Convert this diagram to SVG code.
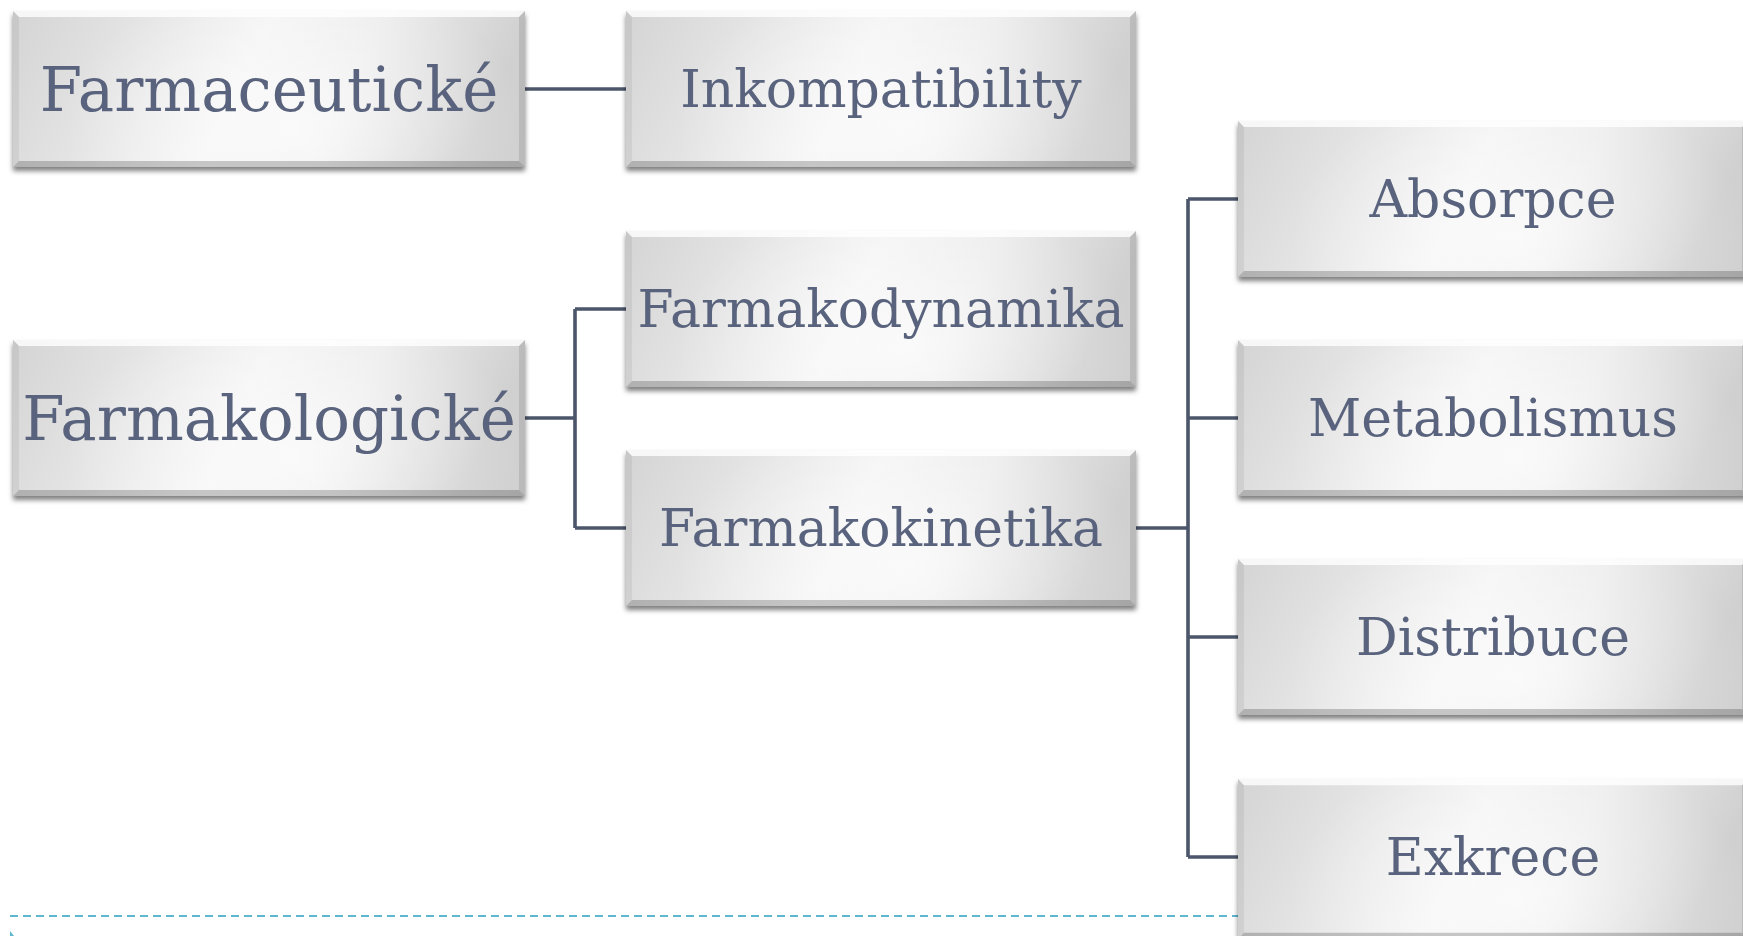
<svg xmlns="http://www.w3.org/2000/svg" width="1743" height="936" viewBox="0 0 1743 936">
<style>
.lbl{font-family:"DejaVu Serif","Liberation Serif",serif;fill:#5a647d;text-anchor:middle}
.big{font-size:61px}
.mid{font-size:52px}
.conn{fill:none;stroke:#4c566a;stroke-width:3.6;stroke-linejoin:miter}
.box{fill:url(#g)}
.hl{fill:url(#rg)}
.bt{fill:#ffffff;fill-opacity:.8}
.bl{fill:#000;fill-opacity:.06}
.bb{fill:#000;fill-opacity:.2}
.br{fill:#000;fill-opacity:.1}
</style>
<defs>
<linearGradient id="g" x1="0" y1="0" x2="1" y2="0.15">
<stop offset="0" stop-color="#d4d4d4"/>
<stop offset="0.5" stop-color="#f4f4f4"/>
<stop offset="0.72" stop-color="#ececec"/>
<stop offset="1" stop-color="#d0d0d0"/>
</linearGradient>
<radialGradient id="rg" cx="0.55" cy="0.75" r="0.45" gradientTransform="translate(0.55 0.75) scale(1 2.2) translate(-0.55 -0.75)">
<stop offset="0" stop-color="#ffffff" stop-opacity="0.7"/>
<stop offset="1" stop-color="#ffffff" stop-opacity="0"/>
</radialGradient>
<filter id="sh" x="-5%" y="-10%" width="110%" height="130%">
<feDropShadow dx="0" dy="4" stdDeviation="2.8" flood-color="#000" flood-opacity="0.5"/>
</filter>
<symbol id="bev" viewBox="0 0 510 156" preserveAspectRatio="none">
<rect class="box" x="0" y="0" width="510" height="156"/>
<rect class="hl" x="0" y="0" width="510" height="156"/>
<polygon class="bt" points="0,0 510,0 504,6 6,6"/>
<polygon class="bl" points="0,0 6,6 6,150 0,156"/>
<polygon class="bb" points="0,156 6,150 504,150 510,156"/>
<polygon class="br" points="510,0 510,156 504,150 504,6"/>
</symbol>
</defs>
<rect width="1743" height="936" fill="#ffffff"/>
<g id="connectors">
<path class="conn" d="M525,89 H626"/>
<path class="conn" d="M525,418 H575 M575,309 V528 M575,309 H626 M575,528 H626"/>
<path class="conn" d="M1136,528 H1188 M1188,199 V857 M1188,199 H1238 M1188,418 H1238 M1188,637 H1238 M1188,857 H1238"/>
</g>
<line x1="10" y1="916" x2="1240" y2="916" stroke="#5eb6cf" stroke-width="2" stroke-dasharray="8 5"/>
<polygon points="10,931 14,936 10,936" fill="#5eb6cf"/>
<g id="farmaceuticke" filter="url(#sh)">
<use href="#bev" x="13" y="11" width="512" height="156"/>
<text class="lbl big" x="269" y="111">Farmaceutické</text>
</g>
<g id="inkompatibility" filter="url(#sh)">
<use href="#bev" x="626" y="11" width="510" height="156"/>
<text class="lbl mid" x="881" y="107">Inkompatibility</text>
</g>
<g id="absorpce" filter="url(#sh)">
<use href="#bev" x="1238" y="121" width="510" height="156"/>
<text class="lbl mid" x="1493" y="217">Absorpce</text>
</g>
<g id="farmakodynamika" filter="url(#sh)">
<use href="#bev" x="626" y="231" width="510" height="156"/>
<text class="lbl mid" x="881" y="327">Farmakodynamika</text>
</g>
<g id="farmakologicke" filter="url(#sh)">
<use href="#bev" x="13" y="340" width="512" height="156"/>
<text class="lbl big" x="269" y="440">Farmakologické</text>
</g>
<g id="metabolismus" filter="url(#sh)">
<use href="#bev" x="1238" y="340" width="510" height="156"/>
<text class="lbl mid" x="1493" y="436">Metabolismus</text>
</g>
<g id="farmakokinetika" filter="url(#sh)">
<use href="#bev" x="626" y="450" width="510" height="156"/>
<text class="lbl mid" x="881" y="546">Farmakokinetika</text>
</g>
<g id="distribuce" filter="url(#sh)">
<use href="#bev" x="1238" y="559" width="510" height="156"/>
<text class="lbl mid" x="1493" y="655">Distribuce</text>
</g>
<g id="exkrece" filter="url(#sh)">
<use href="#bev" x="1238" y="779" width="510" height="160"/>
<text class="lbl mid" x="1493" y="875">Exkrece</text>
</g>
</svg>
